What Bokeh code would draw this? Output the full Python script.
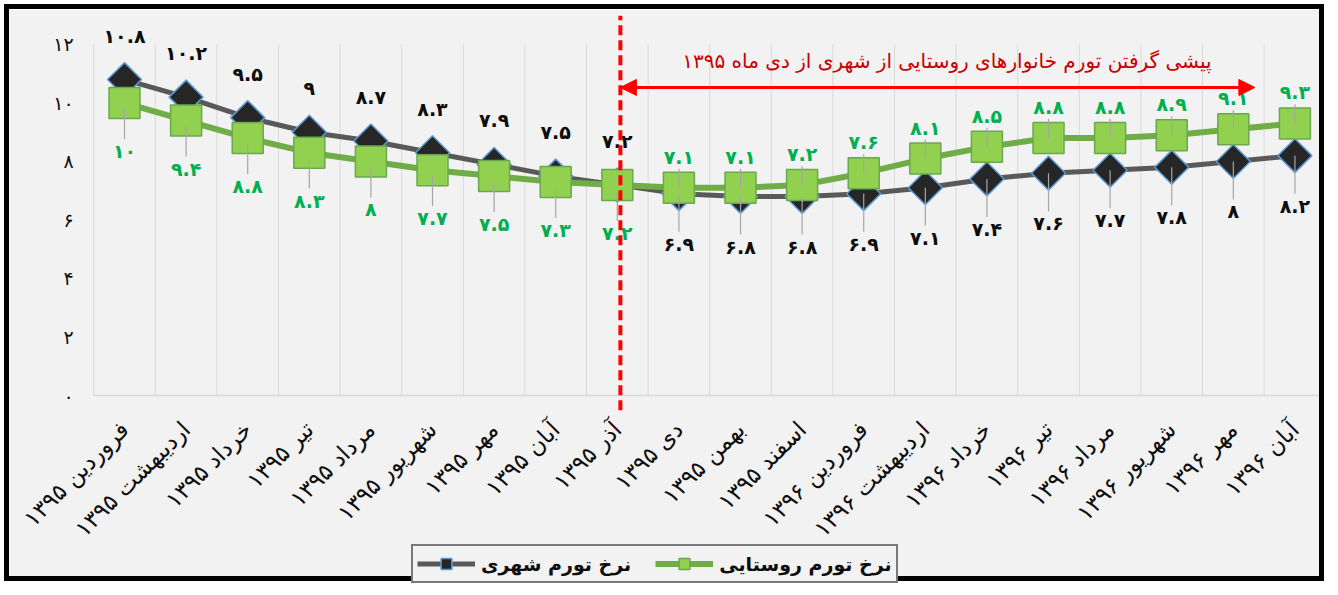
import math
from bokeh.plotting import figure
from bokeh.models import (Range1d, FixedTicker, ColumnDataSource, Legend, LegendItem,
                          Arrow, NormalHead)
from bokeh.core.properties import value
from bokeh.embed import file_html
from bokeh.resources import INLINE

# ---------------- data ----------------
months = ["فروردین ۱۳۹۵", "اردیبهشت ۱۳۹۵", "خرداد ۱۳۹۵", "تیر ۱۳۹۵", "مرداد ۱۳۹۵",
          "شهریور ۱۳۹۵", "مهر ۱۳۹۵", "آبان ۱۳۹۵", "آذر ۱۳۹۵", "دی ۱۳۹۵",
          "بهمن ۱۳۹۵", "اسفند ۱۳۹۵", "فروردین ۱۳۹۶", "اردیبهشت ۱۳۹۶", "خرداد ۱۳۹۶",
          "تیر ۱۳۹۶", "مرداد ۱۳۹۶", "شهریور ۱۳۹۶", "مهر ۱۳۹۶", "آبان ۱۳۹۶"]
urban = [10.8, 10.2, 9.5, 9, 8.7, 8.3, 7.9, 7.5, 7.2, 6.9,
         6.8, 6.8, 6.9, 7.1, 7.4, 7.6, 7.7, 7.8, 8, 8.2]
rural = [10, 9.4, 8.8, 8.3, 8, 7.7, 7.5, 7.3, 7.2, 7.1,
         7.1, 7.2, 7.6, 8.1, 8.5, 8.8, 8.8, 8.9, 9.1, 9.3]
y_ticks = [0, 2, 4, 6, 8, 10, 12]
series_names = ["نرخ تورم شهری", "نرخ تورم روستایی"]
note_text = "پیشی گرفتن تورم خانوارهای روستایی از شهری از دی ماه ۱۳۹۵"
crossover_index = 8   # آذر ۱۳۹۵ : last month before rural overtakes urban

# ---------------- helpers ----------------
FA = str.maketrans("0123456789", "۰۱۲۳۴۵۶۷۸۹")
def fa(v):
    return ("%g" % v).translate(FA)

FONT = "DejaVu Sans"
BG = "#f2f2f2"
n = len(months)
xs = list(range(n))

W, H = 1320, 577
MB_TOP, MB_BOTTOM, MB_LEFT, MB_RIGHT = 6, 2, 0, 1
Y_LO, Y_HI = -6.46, 12.99        # extended downwards to host axis labels + legend
AXIS_Y = -0.547                  # where the category axis sits
GRID_LO, GRID_HI = -0.5, n - 0.5 # plot-area extent in category units
X_LO, X_HI = -1.867, n - 0.455   # extended leftwards to host value-axis labels

p = figure(width=W, height=H, output_backend="svg", toolbar_location=None,
           x_range=Range1d(X_LO, X_HI), y_range=Range1d(Y_LO, Y_HI),
           min_border_top=MB_TOP, min_border_bottom=MB_BOTTOM,
           min_border_left=MB_LEFT, min_border_right=MB_RIGHT,
           background_fill_color=BG, border_fill_color=BG,
           outline_line_color=None,
           styles={"border": "5px solid #000000", "margin": "4px"})
p.grid.visible = False

ppu = (H - MB_TOP - MB_BOTTOM) / (Y_HI - Y_LO)   # screen px per data unit

# vertical category gridlines + baseline
gx = [i - 0.5 for i in range(n)]
p.segment(x0=gx, x1=gx, y0=[0] * n, y1=[y_ticks[-1]] * n, line_color="#d9d9d9", line_width=1)
p.segment(x0=[GRID_LO], x1=[GRID_HI], y0=[0], y1=[0], line_color="#d9d9d9", line_width=1.5)

# series
ul = p.line(xs, urban, line_color="#595959", line_width=5)
um = p.scatter(xs, urban, marker="square", angle=math.pi / 4, size=24,
               fill_color="#262626", line_color="#5b9bd5", line_width=1.5)
rl = p.line(xs, rural, line_color="#70ad47", line_width=6)
rm = p.scatter(xs, rural, marker="square", size=31,
               fill_color="#92d050", line_color="#6aa84f", line_width=1.5)

# data labels
before = [i <= crossover_index for i in xs]
u_off = [-44 if b else 50 for b in before]
r_off = [48 if b else -31 for b in before]

# leader lines
lx, ly0, ly1 = [], [], []
for i in xs:
    if not before[i]:
        lx.append(i); ly0.append(urban[i]); ly1.append(urban[i] - (u_off[i] - 12) / ppu)
    if before[i]:
        lx.append(i); ly0.append(rural[i] - 6 / ppu); ly1.append(rural[i] - (r_off[i] - 12) / ppu)
    else:
        lx.append(i); ly0.append(rural[i]); ly1.append(rural[i] - (r_off[i] + 12) / ppu)
p.segment(x0=lx, x1=lx, y0=ly0, y1=ly1, line_color="#a6a6a6", line_width=1.2)

us = ColumnDataSource(dict(x=xs, y=urban, t=[fa(v) for v in urban], o=u_off))
rs = ColumnDataSource(dict(x=xs, y=rural, t=[fa(v) for v in rural], o=r_off))
p.text(x="x", y="y", text="t", y_offset="o", source=us, text_align="center",
       text_baseline="middle", text_font=value(FONT), text_font_size="19px",
       text_font_style="bold", text_color="#0d0d0d")
p.text(x="x", y="y", text="t", y_offset="o", source=rs, text_align="center",
       text_baseline="middle", text_font=value(FONT), text_font_size="19px",
       text_font_style="bold", text_color="#00b050")

# annotation: dashed divider, double arrow and note
split_x = crossover_index + 0.05
p.segment(x0=[split_x], x1=[split_x], y0=[AXIS_Y + 0.04], y1=[Y_HI], line_color="#ff0000",
          line_width=4, line_dash="10 5")
arrow_y = 10.53
arrow_end = n - 1.65
p.add_layout(Arrow(x_start=split_x, x_end=arrow_end, y_start=arrow_y, y_end=arrow_y,
                   line_color="#ff0000", line_width=3,
                   start=NormalHead(size=16, fill_color="#ff0000", line_color="#ff0000"),
                   end=NormalHead(size=16, fill_color="#ff0000", line_color="#ff0000")))
p.text(x=[(split_x + arrow_end) / 2 + 0.15], y=[11.45], text=[note_text], text_align="center",
       text_baseline="middle", text_font=value(FONT), text_font_size="20px",
       text_color="#c80000")

# axes
p.yaxis.fixed_location = GRID_LO
p.yaxis.ticker = FixedTicker(ticks=y_ticks)
p.yaxis.major_label_overrides = {t: fa(t) for t in y_ticks}
p.yaxis.axis_line_color = None
p.yaxis.major_tick_line_color = None
p.yaxis.minor_tick_line_color = None
p.yaxis.major_label_standoff = 14
p.yaxis.major_label_text_font = FONT
p.yaxis.major_label_text_font_size = "19px"
p.yaxis.major_label_text_color = "#0d0d0d"

p.xaxis.fixed_location = AXIS_Y
p.xaxis.ticker = FixedTicker(ticks=xs)
p.xaxis.major_label_overrides = {i: months[i] for i in xs}
p.xaxis.major_label_orientation = math.pi / 4
p.xaxis.axis_line_color = None
p.xaxis.major_tick_line_color = None
p.xaxis.minor_tick_line_color = None
p.xaxis.major_label_standoff = 8
p.xaxis.major_label_text_font = FONT
p.xaxis.major_label_text_font_size = "23px"
p.xaxis.major_label_text_color = "#0d0d0d"

# legend
legend = Legend(items=[LegendItem(label=series_names[0], renderers=[ul, um]),
                       LegendItem(label=series_names[1], renderers=[rl, rm])],
                orientation="horizontal", location=(402, 1), margin=0,
                padding=4, spacing=24, glyph_width=58, glyph_height=27,
                label_standoff=6,
                border_line_color="#000000", border_line_width=2,
                background_fill_color=BG, background_fill_alpha=1,
                label_text_font=FONT, label_text_font_size="19px",
                label_text_font_style="bold", label_text_color="#0d0d0d")
p.add_layout(legend, "center")

open("out.html", "w").write(file_html(p, INLINE))
